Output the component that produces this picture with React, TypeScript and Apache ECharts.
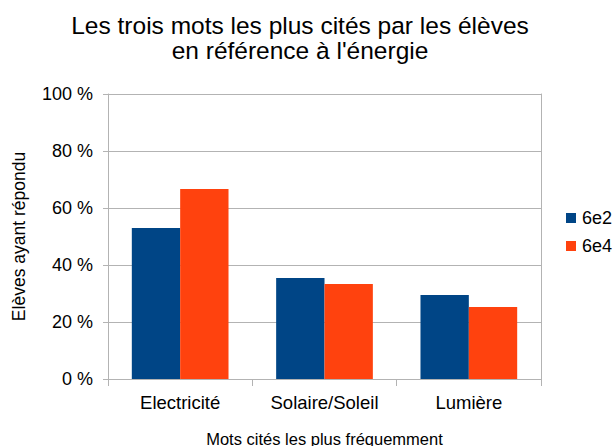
import React, { useEffect, useRef } from "react";
import * as echarts from "echarts";

const categories = ["Electricité", "Solaire/Soleil", "Lumière"];
const series6e2 = [53.0, 35.4, 29.5];
const series6e4 = [66.7, 33.3, 25.3];
const seriesNames = ["6e2", "6e4"];
const titleText = "Les trois mots les plus cités par les élèves\nen référence à l'énergie";
const yAxisName = "Elèves ayant répondu";
const xAxisName = "Mots cités les plus fréquemment";

export default function App() {
  const ref = useRef<HTMLDivElement>(null);
  useEffect(() => {
    document.body.style.margin = "0";
    if (!ref.current) return;
    const chart = echarts.init(ref.current, null, { renderer: "svg" });
    const font = "'Liberation Sans', Arial, sans-serif";
    const gray = "#b3b3b3";
    chart.setOption({
      animation: false,
      backgroundColor: "#ffffff",
      textStyle: { fontFamily: font, color: "#000" },
      title: {
        text: titleText,
        left: 300,
        top: 13,
        textAlign: "center",
        padding: 0,
        textStyle: { fontFamily: font, fontSize: 24.5, fontWeight: "normal", color: "#000", lineHeight: 25 },
      },
      legend: {
        orient: "vertical",
        left: 566,
        top: 209,
        padding: 0,
        itemWidth: 10,
        itemHeight: 10,
        itemGap: 10,
        icon: "rect",
        textStyle: { fontFamily: font, fontSize: 18, color: "#000", padding: [0, 0, 0, 1] },
        data: seriesNames,
      },
      grid: { left: 108, top: 94, width: 433, height: 285, containLabel: false, outerBoundsMode: "none" },
      xAxis: {
        type: "category",
        data: categories,
        name: xAxisName,
        nameLocation: "middle",
        nameGap: 51,
        nameTextStyle: { fontFamily: font, fontSize: 16.5, color: "#000" },
        axisLine: { show: true, lineStyle: { color: gray, width: 1 } },
        axisTick: { show: true, length: 7, lineStyle: { color: gray } },
        axisLabel: { fontFamily: font, fontSize: 18.5, color: "#000", margin: 14 },
        splitLine: { show: false },
      },
      yAxis: [
        {
          type: "value",
          min: 0,
          max: 100,
          interval: 20,
          name: yAxisName,
          nameLocation: "middle",
          nameGap: 80,
          nameTextStyle: { fontFamily: font, fontSize: 17.5, color: "#000" },
          axisLine: { show: true, lineStyle: { color: gray, width: 1 } },
          axisTick: { show: true, length: 5, lineStyle: { color: gray } },
          axisLabel: { fontFamily: font, fontSize: 18, color: "#000", margin: 15, formatter: "{value} %" },
          splitLine: { show: true, lineStyle: { color: gray, width: 1 } },
        },
        {
          type: "value",
          min: 0,
          max: 100,
          interval: 20,
          position: "right",
          axisLine: { show: true, lineStyle: { color: gray, width: 1 } },
          axisTick: { show: false },
          axisLabel: { show: false },
          splitLine: { show: false },
        },
      ],
      series: [
        {
          name: seriesNames[0],
          type: "bar",
          data: series6e2,
          itemStyle: { color: "#004586" },
          barGap: "0%",
          barCategoryGap: "33%",
        },
        {
          name: seriesNames[1],
          type: "bar",
          data: series6e4,
          itemStyle: { color: "#ff420e" },
          barGap: "0%",
          barCategoryGap: "33%",
        },
      ],
    });
    return () => chart.dispose();
  }, []);
  return <div ref={ref} style={{ width: 614, height: 446 }} />;
}
